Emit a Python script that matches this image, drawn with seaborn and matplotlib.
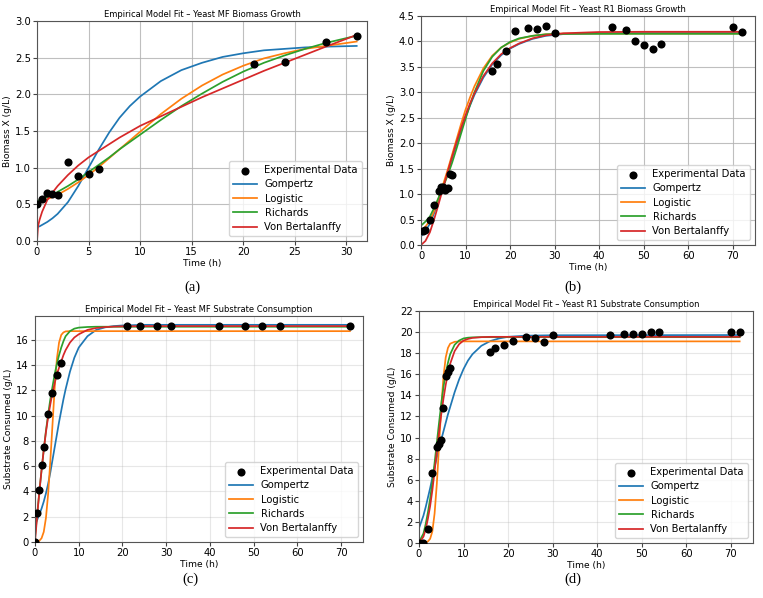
import matplotlib

matplotlib.use("Agg")
import matplotlib.pyplot as plt
import seaborn as sns

MODELS = ["Gompertz", "Logistic", "Richards", "Von Bertalanffy"]
COLORS = ["#1f77b4", "#ff7f0e", "#2ca02c", "#d62728"]

# ---- (a) Yeast MF biomass ----
a_t_obs = [0, 0.5, 1, 1.5, 2, 3, 4, 5, 6, 21, 24, 28, 31]
a_x_obs = [0.51, 0.57, 0.65, 0.64, 0.63, 1.08, 0.88, 0.91, 0.98, 2.42, 2.44, 2.72, 2.79]
a_t_fit = [0, 0.1, 0.25, 0.5, 1, 1.5, 2, 3, 4, 5, 6, 7, 8, 9, 10, 12, 14, 16, 18, 20, 22, 24, 26, 28, 31]
a_gompertz = [0.19, 0.195, 0.2, 0.22, 0.26, 0.31, 0.37, 0.53, 0.75, 1.0, 1.25, 1.48, 1.68, 1.84, 1.97,
              2.18, 2.33, 2.43, 2.51, 2.56, 2.6, 2.62, 2.64, 2.65, 2.66]
a_logistic = [0.52, 0.52, 0.53, 0.54, 0.57, 0.6, 0.63, 0.71, 0.8, 0.9, 1.01, 1.13, 1.25, 1.37, 1.49,
              1.73, 1.94, 2.12, 2.27, 2.39, 2.49, 2.56, 2.62, 2.66, 2.72]
a_richards = [0.55, 0.55, 0.56, 0.58, 0.6, 0.63, 0.67, 0.75, 0.84, 0.94, 1.04, 1.14, 1.25, 1.35, 1.45,
              1.65, 1.84, 2.01, 2.17, 2.31, 2.43, 2.53, 2.62, 2.7, 2.8]
a_bertalanffy = [0.0, 0.2, 0.29, 0.4, 0.56, 0.66, 0.75, 0.9, 1.03, 1.14, 1.23, 1.32, 1.41, 1.49, 1.57,
                 1.7, 1.83, 1.96, 2.08, 2.2, 2.32, 2.43, 2.54, 2.65, 2.81]

# ---- (b) Yeast R1 biomass ----
b_t_obs = [0.5, 1, 2, 3, 4, 4.5, 5, 5.5, 6, 6.5, 7, 16, 17, 19, 21, 24, 26, 28, 30,
           43, 46, 48, 50, 52, 54, 70, 72]
b_x_obs = [0.28, 0.30, 0.50, 0.79, 1.06, 1.14, 1.13, 1.08, 1.12, 1.40, 1.38, 3.41, 3.55, 3.81,
           4.21, 4.27, 4.25, 4.30, 4.17, 4.29, 4.22, 4.01, 3.93, 3.86, 3.95, 4.29, 4.18]
b_t_fit = [0, 1, 2, 3, 4, 5, 6, 7, 8, 9, 10, 11, 12, 14, 16, 18, 20, 22, 25, 28, 32, 40, 50, 60, 72]
b_gompertz = [0.17, 0.27, 0.42, 0.64, 0.90, 1.16, 1.43, 1.71, 1.99, 2.26, 2.51, 2.74, 2.95, 3.29,
              3.55, 3.73, 3.86, 3.95, 4.05, 4.11, 4.145, 4.16, 4.165, 4.165, 4.165]
b_logistic = [0.28, 0.36, 0.48, 0.68, 0.93, 1.2, 1.48, 1.78, 2.08, 2.38, 2.66, 2.9, 3.12, 3.47,
              3.72, 3.88, 3.98, 4.05, 4.11, 4.14, 4.155, 4.155, 4.155, 4.155, 4.155]
b_richards = [0.38, 0.46, 0.56, 0.74, 0.94, 1.15, 1.37, 1.62, 1.9, 2.19, 2.48, 2.75, 3.0, 3.42,
              3.7, 3.88, 3.99, 4.06, 4.11, 4.14, 4.15, 4.15, 4.15, 4.15, 4.15]
b_bertalanffy = [0.0, 0.08, 0.25, 0.52, 0.82, 1.13, 1.44, 1.74, 2.03, 2.3, 2.55, 2.78, 2.98, 3.32,
                 3.57, 3.75, 3.87, 3.96, 4.06, 4.12, 4.16, 4.185, 4.19, 4.19, 4.19]

# ---- (c) Yeast MF substrate ----
c_t_obs = [0, 0.5, 1, 1.5, 2, 3, 4, 5, 6, 21, 24, 28, 31, 42, 48, 52, 56, 72]
c_s_obs = [0.0, 2.3, 4.1, 6.1, 7.5, 10.1, 11.8, 13.2, 14.2, 17.1, 17.1, 17.1, 17.1, 17.1,
           17.1, 17.1, 17.1, 17.1]
c_t_fit = [0, 0.5, 1, 1.5, 2, 2.5, 3, 3.5, 4, 4.5, 5, 5.5, 6, 6.5, 7, 8, 9, 10, 12, 14, 16, 18,
           20, 25, 30, 72]
c_gompertz = [1.4, 1.75, 2.2, 2.65, 3.2, 3.85, 4.6, 5.5, 6.5, 7.5, 8.5, 9.5, 10.4, 11.3, 12.1,
              13.5, 14.6, 15.4, 16.3, 16.8, 17.0, 17.1, 17.15, 17.2, 17.2, 17.2]
c_logistic = [0.02, 0.05, 0.1, 0.3, 0.8, 1.9, 3.8, 6.4, 9.3, 12.2, 14.5, 15.8, 16.4, 16.6, 16.68,
              16.7, 16.7, 16.7, 16.7, 16.7, 16.7, 16.7, 16.7, 16.7, 16.7, 16.7]
c_richards = [0.4, 2.2, 4.0, 5.7, 7.3, 8.8, 10.1, 11.3, 12.3, 13.3, 14.1, 14.8, 15.4, 15.9, 16.3,
              16.7, 16.9, 16.98, 17.03, 17.05, 17.05, 17.05, 17.05, 17.05, 17.05, 17.05]
c_bertalanffy = [0.0, 2.1, 4.0, 5.7, 7.3, 8.7, 9.9, 10.9, 11.8, 12.6, 13.3, 13.8, 14.3, 14.8, 15.2,
                 15.8, 16.2, 16.45, 16.8, 16.95, 17.02, 17.06, 17.08, 17.1, 17.1, 17.1]

# ---- (d) Yeast R1 substrate ----
d_t_obs = [0, 1, 2, 3, 4, 4.5, 5, 5.5, 6, 6.5, 7, 16, 17, 19, 21, 24, 26, 28, 30,
           43, 46, 48, 50, 52, 54, 70, 72]
d_s_obs = [0.0, 0.0, 1.35, 6.65, 9.1, 9.4, 9.75, 12.8, 15.8, 16.2, 16.6, 18.1, 18.45, 18.8, 19.2,
           19.5, 19.4, 19.05, 19.7, 19.7, 19.8, 19.85, 19.85, 20.05, 20.05, 20.05, 20.05]
d_t_fit = [0, 1, 1.5, 2, 2.5, 3, 3.5, 4, 4.5, 5, 5.5, 6, 6.5, 7, 8, 9, 10, 11, 12, 14, 16, 18,
           20, 24, 30, 72]
d_gompertz = [1.4, 2.6, 3.4, 4.3, 5.2, 6.2, 7.2, 8.1, 9.0, 9.8, 10.6, 11.4, 12.2, 12.9, 14.3,
              15.5, 16.5, 17.3, 17.9, 18.7, 19.15, 19.4, 19.55, 19.66, 19.7, 19.72]
d_logistic = [0.0, 0.02, 0.05, 0.15, 0.4, 1.1, 2.8, 5.6, 9.2, 12.9, 15.8, 17.6, 18.5, 18.9, 19.08,
              19.11, 19.12, 19.12, 19.12, 19.12, 19.12, 19.12, 19.12, 19.12, 19.12, 19.12]
d_richards = [0.1, 0.9, 1.8, 2.9, 4.2, 5.8, 7.6, 9.5, 11.4, 13.2, 14.8, 16.1, 17.1, 17.9, 18.8,
              19.2, 19.4, 19.47, 19.5, 19.52, 19.52, 19.52, 19.52, 19.52, 19.52, 19.52]
d_bertalanffy = [0.0, 0.6, 1.3, 2.3, 3.5, 5.0, 6.8, 8.7, 10.5, 12.2, 13.7, 15.0, 16.1, 17.0, 18.2,
                 18.85, 19.2, 19.35, 19.45, 19.52, 19.55, 19.55, 19.55, 19.55, 19.55, 19.55]


def draw_panel(ax, t_obs, y_obs, t_fit, fits, title, ylabel, grid_alpha):
    sns.scatterplot(x=t_obs, y=y_obs, color="black", s=34, linewidth=0,
                    label="Experimental Data", ax=ax, zorder=3)
    for name, color, vals in zip(MODELS, COLORS, fits):
        sns.lineplot(x=t_fit, y=vals, color=color, lw=1.25, label=name, ax=ax)
    ax.set_title(title, fontsize=6.0, pad=3)
    ax.set_xlabel("Time (h)", fontsize=6.6, labelpad=1)
    ax.set_ylabel(ylabel, fontsize=6.6, labelpad=2)
    ax.tick_params(labelsize=7.2, length=3, pad=1.5, color="#444444")
    for spine in ax.spines.values():
        spine.set_color("#555555")
    ax.grid(True, alpha=grid_alpha)
    ax.legend(loc="lower right", fontsize=7.2, handlelength=2.4, labelspacing=0.42,
              borderpad=0.4)


fig = plt.figure(figsize=(7.63, 5.98), dpi=100)
W, H = 763, 598


def box(left, top, right, bottom):
    return [left / W, 1 - bottom / H, (right - left) / W, (bottom - top) / H]


ax_a = fig.add_axes(box(37, 21, 367, 241))
draw_panel(ax_a, a_t_obs, a_x_obs, a_t_fit,
           [a_gompertz, a_logistic, a_richards, a_bertalanffy],
           "Empirical Model Fit \u2013 Yeast MF Biomass Growth", "Biomass X (g/L)", 0.8)
ax_a.set_xlim(0, 32)
ax_a.set_ylim(0, 3.0)
ax_a.set_xticks(range(0, 31, 5))

ax_b = fig.add_axes(box(421, 16, 755, 245))
draw_panel(ax_b, b_t_obs, b_x_obs, b_t_fit,
           [b_gompertz, b_logistic, b_richards, b_bertalanffy],
           "Empirical Model Fit \u2013 Yeast R1 Biomass Growth", "Biomass X (g/L)", 0.8)
ax_b.set_xlim(0, 75)
ax_b.set_ylim(0, 4.5)
ax_b.set_yticks([i * 0.5 for i in range(10)])

ax_c = fig.add_axes(box(35, 316, 363, 542))
draw_panel(ax_c, c_t_obs, c_s_obs, c_t_fit,
           [c_gompertz, c_logistic, c_richards, c_bertalanffy],
           "Empirical Model Fit \u2013 Yeast MF Substrate Consumption", "Substrate Consumed (g/L)", 0.3)
ax_c.set_xlim(0, 75)
ax_c.set_ylim(0, 17.9)
ax_c.set_yticks(range(0, 17, 2))

ax_d = fig.add_axes(box(419, 311, 753, 543))
draw_panel(ax_d, d_t_obs, d_s_obs, d_t_fit,
           [d_gompertz, d_logistic, d_richards, d_bertalanffy],
           "Empirical Model Fit \u2013 Yeast R1 Substrate Consumption", "Substrate Consumed (g/L)", 0.3)
ax_d.set_xlim(0, 75)
ax_d.set_ylim(0, 22)
ax_d.set_yticks(range(0, 23, 2))

for label, x, y in [("(a)", 192, 287), ("(b)", 573, 287), ("(c)", 190, 579), ("(d)", 573, 579)]:
    fig.text(x / W, 1 - y / H, label, ha="center", va="center", fontsize=10.5,
             family="Liberation Serif")

fig.savefig("out.png", dpi=100)
